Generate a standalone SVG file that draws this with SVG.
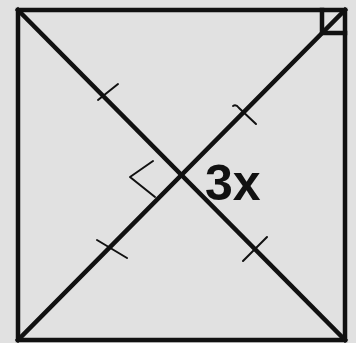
<svg xmlns="http://www.w3.org/2000/svg" width="356" height="343" viewBox="0 0 356 343">
<style>
.bold{stroke:#111;stroke-width:4.5;fill:none;stroke-linecap:square}
.thin{stroke:#111;stroke-width:2;fill:none;stroke-linecap:round;stroke-linejoin:round}
.lbl{font-family:"Liberation Sans",Arial,sans-serif;font-weight:bold;font-size:50px;fill:#111}
</style>
<rect x="0" y="0" width="356" height="343" fill="#e1e1e1"/>
<g id="square">
<rect class="bold" x="18" y="10" width="327" height="330"/>
<path class="bold" d="M322 10 V33 H345"/>
</g>
<g id="diagonals">
<line class="bold" x1="18" y1="10" x2="345" y2="340"/>
<line class="bold" x1="345" y1="10" x2="18" y2="340"/>
</g>
<g id="marks">
<line class="thin" x1="98" y1="100" x2="118" y2="84"/>
<line class="thin" x1="243" y1="261" x2="267" y2="237"/>
<path class="thin" d="M233 106 Q236 104 239 108 L256 124"/>
<line class="thin" x1="97" y1="240" x2="127" y2="258"/>
<path class="thin" d="M153 161 L130 177 L155 197"/>
</g>
<g id="label">
<text class="lbl" x="205" y="200">3x</text>
</g>
</svg>
